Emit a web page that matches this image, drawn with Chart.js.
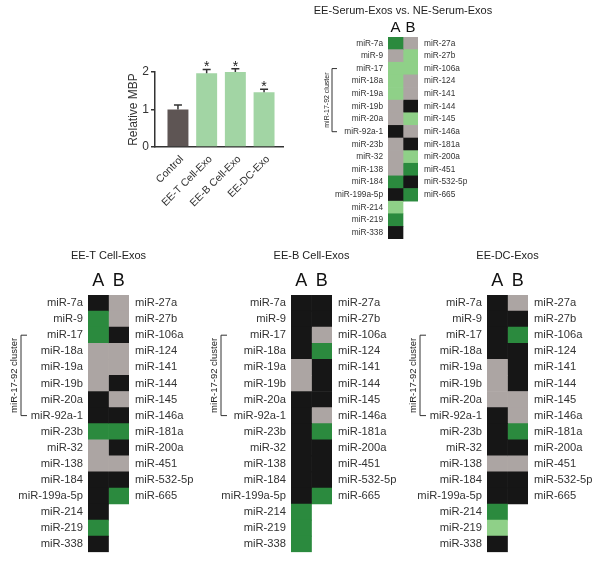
<!DOCTYPE html>
<html>
<head>
<meta charset="utf-8">
<script src="https://cdn.jsdelivr.net/npm/chart.js@4.4.0/dist/chart.umd.min.js"></script>
<style>
  body { margin: 0; background: #fff; }
  #page { position: relative; width: 600px; height: 567px; overflow: hidden; }
  canvas { position: absolute; }
</style>
</head>
<body>
<div id="page">
  <canvas id="mbp" style="left:122px;top:30px" width="168" height="180"></canvas>
  <canvas id="serum" style="left:300px;top:0px" width="206" height="250"></canvas>
  <canvas id="tcell" style="left:0px;top:240px" width="200" height="325"></canvas>
  <canvas id="bcell" style="left:200px;top:240px" width="200" height="325"></canvas>
  <canvas id="dc" style="left:400px;top:240px" width="200" height="325"></canvas>
</div>
<script>
// bar chart data
const mbpGroups = ["Control", "EE-T Cell-Exo", "EE-B Cell-Exo", "EE-DC-Exo"];
const mbpMean = [1.0, 1.97, 2.0, 1.46];
const mbpErr = [0.12, 0.1, 0.09, 0.08];
const mbpSig = [false, true, true, true];

// heatmap rows
const rowsA = ["miR-7a", "miR-9", "miR-17", "miR-18a", "miR-19a", "miR-19b", "miR-20a", "miR-92a-1",
  "miR-23b", "miR-32", "miR-138", "miR-184", "miR-199a-5p", "miR-214", "miR-219", "miR-338"];
const rowsB = ["miR-27a", "miR-27b", "miR-106a", "miR-124", "miR-141", "miR-144", "miR-145",
  "miR-146a", "miR-181a", "miR-200a", "miR-451", "miR-532-5p", "miR-665"];

// k = black, g = gray, d = dark green, l = light green
const serumA = "d g l l l g g k g g g d k l d k".split(" ");
const serumB = "g l l g g k l g k l d k d".split(" ");
const tcellA = "k d d g g g k k d g g k k k d k".split(" ");
const tcellB = "g g k g g k g k d k g k d".split(" ");
const bcellA = "k k k k g g k k k k k k k d d d".split(" ");
const bcellB = "k k g d k k k g d k k k d".split(" ");
const dcA = "k k k k g g g k k k g k k d l k".split(" ");
const dcB = "g k d k k k g g d k g k k".split(" ");

const palette = { k: "#161616", g: "#aca5a3", d: "#2b8a3e", l: "#8fd088" };

Chart.defaults.font.family = '"Liberation Sans", Arial, sans-serif';
Chart.defaults.color = "#333";

// error bars + stars
const errorBars = {
  id: "errorBars",
  afterDatasetsDraw(chart) {
    const { ctx, scales: { y } } = chart;
    const meta = chart.getDatasetMeta(0);
    ctx.save();
    ctx.strokeStyle = "#333";
    ctx.fillStyle = "#222";
    ctx.lineWidth = 1.5;
    ctx.font = '14px "Liberation Sans", Arial';
    ctx.textAlign = "center";
    meta.data.forEach((bar, i) => {
      const top = y.getPixelForValue(mbpMean[i] + mbpErr[i]);
      ctx.beginPath();
      ctx.moveTo(bar.x, bar.y);
      ctx.lineTo(bar.x, top);
      ctx.moveTo(bar.x - 4, top);
      ctx.lineTo(bar.x + 4, top);
      ctx.stroke();
      if (mbpSig[i]) ctx.fillText("*", bar.x, top + 2);
    });
    ctx.restore();
  }
};

new Chart(document.getElementById("mbp"), {
  type: "bar",
  data: {
    datasets: [{
      data: mbpMean.map((v, i) => ({ x: i, y: v })),
      backgroundColor: mbpMean.map((v, i) => i === 0 ? "#5e5554" : "#a2d5a4"),
      categoryPercentage: 1,
      barPercentage: 0.73
    }]
  },
  options: {
    responsive: false,
    animation: false,
    layout: { padding: { top: 42, right: 7 } },
    plugins: { legend: { display: false }, tooltip: { enabled: false } },
    scales: {
      x: {
        type: "linear", min: -0.8, max: 3.66, offset: false,
        afterBuildTicks: s => { s.ticks = mbpGroups.map((g, i) => ({ value: i })); },
        afterFit: s => { s.height = 63; },
        grid: { display: false, drawTicks: false, offset: false },
        border: { color: "#333", width: 1.5 },
        ticks: { autoSkip: false, minRotation: 45, maxRotation: 45, padding: 6, labelOffset: 4,
          font: { size: 10.5 }, callback: (v, i) => mbpGroups[i] }
      },
      y: {
        min: 0, max: 2,
        afterFit: s => { s.width = 33; },
        grid: { drawOnChartArea: false, tickLength: 4, color: "#333", lineWidth: 1.5 },
        border: { color: "#333", width: 1.5 },
        ticks: { stepSize: 1, padding: 2, font: { size: 12 } },
        title: { display: true, text: "Relative MBP", font: { size: 12 } }
      }
    }
  },
  plugins: [errorBars]
});

// titles and cluster bracket for heatmap panels
const panel = {
  id: "panel",
  afterDraw(chart, args, o) {
    const { ctx, chartArea: a, scales: { y } } = chart;
    ctx.save();
    ctx.fillStyle = "#222";
    ctx.strokeStyle = "#333";
    ctx.textAlign = "center";
    ctx.textBaseline = "middle";
    ctx.font = o.titleSize + 'px "Liberation Sans", Arial';
    ctx.fillText(o.title, (a.left + a.right) / 2, o.titleY);
    const top = y.getPixelForValue(rowsA.indexOf("miR-17") + 0.5);
    const bot = y.getPixelForValue(rowsA.indexOf("miR-92a-1") + 0.5);
    const bx = a.left + o.bracketX;
    ctx.lineWidth = 1;
    ctx.beginPath();
    ctx.moveTo(bx + o.tick, top);
    ctx.lineTo(bx, top);
    ctx.lineTo(bx, bot);
    ctx.lineTo(bx + o.tick, bot);
    ctx.stroke();
    ctx.translate(a.left + o.textX, (top + bot) / 2);
    ctx.rotate(-Math.PI / 2);
    ctx.font = o.clusterSize + 'px "Liberation Sans", Arial';
    ctx.fillText("miR-17-92 cluster", 0, 0);
    ctx.restore();
  }
};

function rowAxis(pos, names, width, size, pad) {
  return {
    type: "linear", position: pos, reverse: true, min: 0, max: 16, stacked: false,
    afterBuildTicks: s => { s.ticks = names.map((n, i) => ({ value: i + 0.5 })); },
    afterFit: s => { s.width = width; },
    grid: { display: false, drawTicks: false },
    border: { display: false },
    ticks: { autoSkip: false, padding: pad, font: { size: size }, color: "#333",
      callback: (v, i) => names[i] }
  };
}

function heatmap(id, a, b, o) {
  new Chart(document.getElementById(id), {
    type: "bar",
    data: {
      labels: ["A", "B"],
      datasets: [
        { data: rowsA.map((n, i) => ({ x: "A", y: [i, i + 1] })), backgroundColor: a.map(c => palette[c]) },
        { data: rowsB.map((n, i) => ({ x: "B", y: [i, i + 1] })), backgroundColor: b.map(c => palette[c]) }
      ]
    },
    options: {
      responsive: false,
      animation: false,
      layout: { padding: { bottom: o.bottom } },
      datasets: { bar: { grouped: false, categoryPercentage: 1, barPercentage: 1, borderWidth: 0 } },
      plugins: { legend: { display: false }, tooltip: { enabled: false }, panel: o },
      scales: {
        x: {
          position: "top",
          afterFit: s => { s.height = o.top; },
          grid: { display: false, drawTicks: false },
          border: { display: false },
          ticks: { padding: o.abPad, color: "#111", minRotation: 0, maxRotation: 0, autoSkip: false,
            font: { size: o.abSize } }
        },
        y: rowAxis("left", rowsA, o.left, o.labelSize, o.labelPad),
        y2: rowAxis("right", rowsB, o.right, o.labelSize, o.labelPad + 1)
      }
    },
    plugins: [panel]
  });
}

heatmap("serum", serumA, serumB, {
  title: "EE-Serum-Exos vs. NE-Serum-Exos", titleY: 11, titleSize: 11,
  top: 37, bottom: 7, left: 88, right: 88, labelSize: 8.3, labelPad: 5,
  abSize: 15, abPad: 0, bracketX: -56, tick: 5, textX: -61, clusterSize: 7
});
const lower = { titleY: 16, titleSize: 11, top: 55, bottom: 7, labelSize: 11.2, labelPad: 5,
  abSize: 18, abPad: 3, tick: 6, clusterSize: 9.5 };
heatmap("tcell", tcellA, tcellB, Object.assign({}, lower, {
  title: "EE-T Cell-Exos", left: 88, right: 71, bracketX: -67, textX: -74 }));
heatmap("bcell", bcellA, bcellB, Object.assign({}, lower, {
  title: "EE-B Cell-Exos", left: 91, right: 68, bracketX: -70, textX: -77 }));
heatmap("dc", dcA, dcB, Object.assign({}, lower, {
  title: "EE-DC-Exos", left: 87, right: 72, bracketX: -67, textX: -74 }));
</script>
</body>
</html>
